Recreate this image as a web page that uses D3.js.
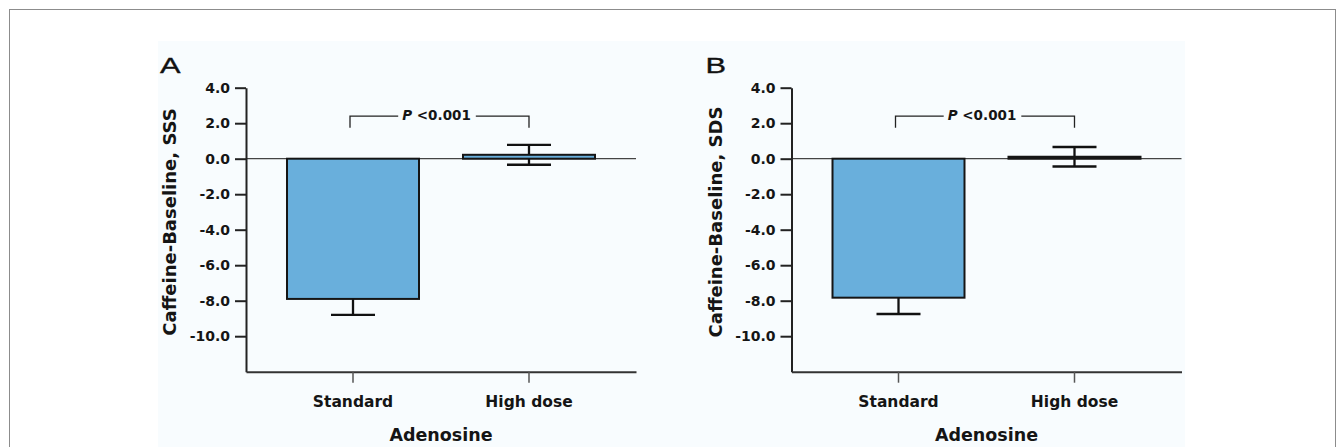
<!DOCTYPE html>
<html>
<head>
<meta charset="utf-8">
<script src="https://cdn.jsdelivr.net/npm/d3@7"></script>
<style>
body { margin: 0; background: #fff; }
text { font-family: "DejaVu Sans", Verdana, sans-serif; }
</style>
</head>
<body>
<div class="featured"></div>
<script>
// values
var categories = ["Standard", "High dose"];
var panelLetters = ["A", "B"];
var yTitles = ["Caffeine-Baseline, SSS", "Caffeine-Baseline, SDS"];
var xTitle = "Adenosine";
var meanSSS = [-7.9, 0.22];
var errSSS = [0.9, 0.56];
var meanSDS = [-7.83, 0.11];
var errSDS = [0.92, 0.55];
var yTickValues = [4, 2, 0, -2, -4, -6, -8, -10];
var pLabel = "<0.001";
var bracketLevel = 2.4;
var bracketFoot = 1.75;

var svg = d3.select(".featured").append("svg")
	.attr("width", 1341).attr("height", 447);

svg.append("rect").attr("width", 1341).attr("height", 447).attr("fill", "#fff");
svg.append("rect").attr("x", 9.5).attr("y", 9.5).attr("width", 1326).attr("height", 460)
	.attr("fill", "none").attr("stroke", "#8c8c8c").attr("stroke-width", 1);
svg.append("rect").attr("x", 158).attr("y", 41).attr("width", 1027).attr("height", 406)
	.attr("fill", "#f8fcfe");

var y = d3.scaleLinear().domain([-12, 4]).range([371.7, 87.7]);

function drawPanel(offset, letter, yTitle, means, errs)
{
	var left = 246 + offset, right = 636 + offset;
	var x = d3.scaleBand().domain(categories).range([left, right])
		.paddingInner(0.25).paddingOuter(0.233);
	var rows = categories.map(function(c, i) { return {cat: c, mean: means[i], err: errs[i]}; });
	var g = svg.append("g");

	// panel letter
	g.append("text").attr("transform", "translate(" + (160 + offset) + ",72.5) scale(1.4,1)")
		.style("font-family", "'Liberation Sans', Arial, sans-serif")
		.style("font-size", "22px").attr("fill", "#111")
		.attr("stroke", "#111").attr("stroke-width", 0.35).text(letter);

	// zero line
	g.append("line").attr("x1", left).attr("x2", right).attr("y1", y(0)).attr("y2", y(0))
		.attr("stroke", "#444").attr("stroke-width", 1.2);

	// error bars (drawn under bars)
	var eb = g.selectAll(".eb").data(rows).enter().append("g");
	eb.append("line")
		.attr("x1", function(d) { return x(d.cat) + x.bandwidth() / 2; })
		.attr("x2", function(d) { return x(d.cat) + x.bandwidth() / 2; })
		.attr("y1", function(d) { return y(d.mean + d.err); })
		.attr("y2", function(d) { return y(d.mean - d.err); });
	[1, -1].forEach(function(s) {
		eb.append("line")
			.attr("x1", function(d) { return x(d.cat) + x.bandwidth() / 2 - 22; })
			.attr("x2", function(d) { return x(d.cat) + x.bandwidth() / 2 + 22; })
			.attr("y1", function(d) { return y(d.mean + s * d.err); })
			.attr("y2", function(d) { return y(d.mean + s * d.err); });
	});
	eb.selectAll("line").attr("stroke", "#111").attr("stroke-width", 2.3);

	// bars
	g.selectAll(".bar").data(rows).enter().append("rect")
		.attr("x", function(d) { return x(d.cat); })
		.attr("width", x.bandwidth())
		.attr("y", function(d) { return y(Math.max(0, d.mean)); })
		.attr("height", function(d) { return Math.abs(y(d.mean) - y(0)); })
		.attr("fill", "#69afdc")
		.attr("stroke", "#151515").attr("stroke-width", 2);

	// axes
	var yAxis = g.append("g").attr("transform", "translate(" + left + ",0)")
		.call(d3.axisLeft(y).tickValues(yTickValues).tickSize(11).tickSizeOuter(0).tickPadding(5)
			.tickFormat(function(d) { return d.toFixed(1); }));
	var xAxis = g.append("g").attr("transform", "translate(0," + y.range()[0] + ")")
		.call(d3.axisBottom(x).tickSize(11).tickSizeOuter(0).tickPadding(13));
	yAxis.select(".domain").attr("stroke", "#222").attr("stroke-width", 2);
	yAxis.selectAll(".tick line").attr("stroke", "#222").attr("stroke-width", 2);
	xAxis.select(".domain").attr("stroke", "#333").attr("stroke-width", 2);
	xAxis.selectAll(".tick line").attr("stroke", "#555").attr("stroke-width", 1.5);
	yAxis.selectAll("text").style("font-size", "14px").style("font-weight", "bold").attr("fill", "#151515")
		.style("font-family", "'DejaVu Sans', sans-serif");
	xAxis.selectAll("text").style("font-size", "15.5px").style("font-weight", "bold").attr("fill", "#151515")
		.style("font-family", "'DejaVu Sans', sans-serif");

	// axis titles
	g.append("text").attr("transform", "translate(" + (176 + offset) + ",222) rotate(-90)")
		.attr("text-anchor", "middle").style("font-size", "18px").style("font-weight", "bold")
		.attr("fill", "#151515").text(yTitle);
	g.append("text").attr("x", (left + right) / 2).attr("y", 441)
		.attr("text-anchor", "middle").style("font-size", "17.5px").style("font-weight", "bold")
		.attr("fill", "#151515").text(xTitle);

	// significance bracket
	var x1 = x(categories[0]) + x.bandwidth() / 2 - 3;
	var x2 = x(categories[1]) + x.bandwidth() / 2;
	var mid = (x1 + x2) / 2 - 3;
	var pt = g.append("text").attr("x", mid).attr("y", y(bracketLevel) + 3.6)
		.attr("text-anchor", "middle").style("font-size", "13.5px").style("font-weight", "bold")
		.attr("fill", "#151515");
	pt.append("tspan").style("font-style", "italic").text("P");
	pt.append("tspan").text(" " + pLabel);
	var w = pt.node().getComputedTextLength();
	var path = "M" + x1 + "," + y(bracketFoot) + "V" + y(bracketLevel) + "H" + (mid - w / 2 - 4)
		+ "M" + (mid + w / 2 + 5) + "," + y(bracketLevel) + "H" + x2 + "V" + y(bracketFoot);
	g.append("path").attr("d", path).attr("fill", "none").attr("stroke", "#222").attr("stroke-width", 1.3);
}

drawPanel(0, panelLetters[0], yTitles[0], meanSSS, errSSS);
drawPanel(545.5, panelLetters[1], yTitles[1], meanSDS, errSDS);
</script>
</body>
</html>
